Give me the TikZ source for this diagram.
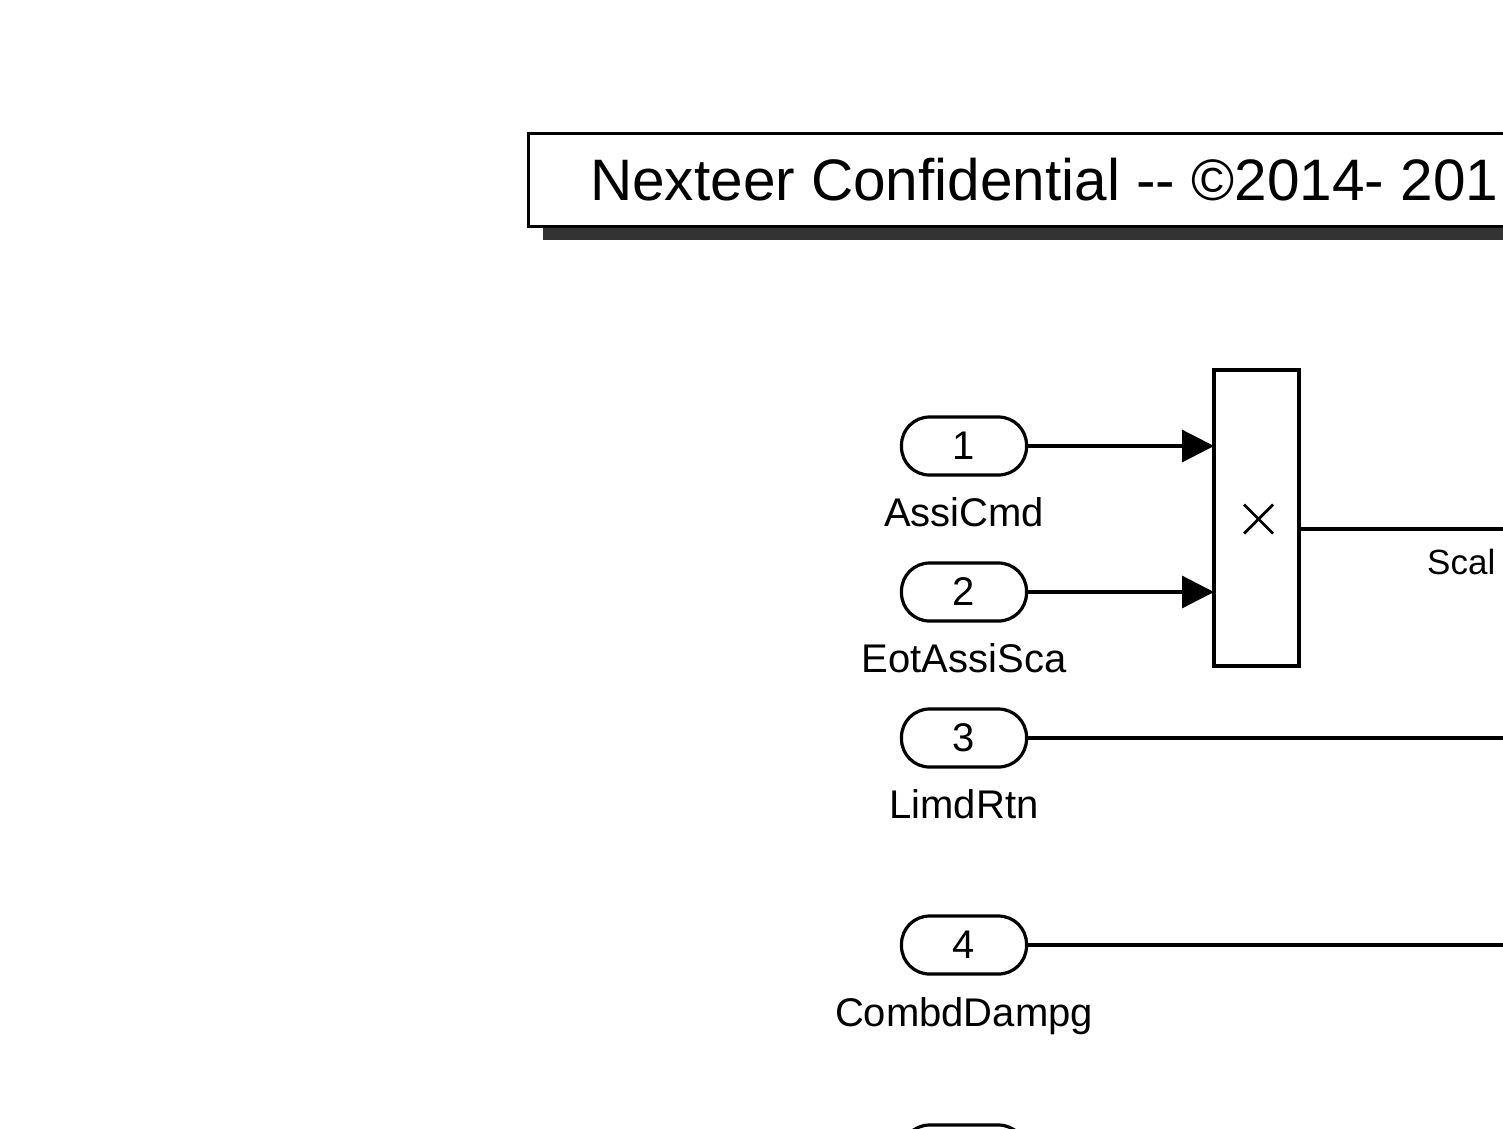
\documentclass[tikz,border=0pt]{standalone}
\usepackage{fontspec}
\setmainfont{Liberation Sans}
\usetikzlibrary{arrows.meta,calc}
\tikzset{
  port/.style={draw, line width=3.2pt, rectangle, rounded corners=28pt, minimum width=125pt, minimum height=58pt, inner sep=0pt, font=\fontsize{40}{44}\selectfont},
  plabel/.style={anchor=base, inner sep=0pt, font=\fontsize{40}{44}\selectfont},
  sig/.style={line width=3.2pt},
  arr/.style={sig, -{Triangle[length=32pt,width=32pt]}},
  blk/.style={draw, line width=3.2pt, inner sep=0pt}
}
\begin{document}
\begin{tikzpicture}[x=1pt,y=-1pt]
\path[use as bounding box] (0,0) rectangle (1503,1128);
\clip (0,0) rectangle (1503,1128);
\fill[white] (0,0) rectangle (1503,1128);
% title banner
\fill[black!80] (543,147) rectangle (1530,240);
\node[blk, fill=white, minimum width=1000pt, minimum height=93pt, anchor=north west] (title) at (527,132) {};
\node[anchor=base west, inner sep=0pt, font=\fontsize{58.5}{62}\selectfont] (ttext) at (590,200) {Nexteer Confidential -{}- ©2014- 201};
% ports
\node[port] (p1) at (964,446) {1};
\node[port] (p2) at (964,592) {2};
\node[port] (p3) at (964,738) {3};
\node[port] (p4) at (964,945) {4};
\node[port] (p5) at (964,1154) {};
\node[plabel] (l1) at (964,526) {AssiCmd};
\node[plabel] (l2) at (964,672) {EotAssiSca};
\node[plabel] (l3) at (964,818) {LimdRtn};
\node[plabel] (l4) at (964,1026) {CombdDampg};
% product block
\node[blk, minimum width=85pt, minimum height=296pt] (prod) at (1256.5,518) {};
\coordinate (xc) at (1258.5,519);
\draw[line width=2.8pt] ($(xc)+(-14.5,-14.5)$) -- ($(xc)+(14.5,14.5)$);
\draw[line width=2.8pt] ($(xc)+(-14.5,14.5)$) -- ($(xc)+(14.5,-14.5)$);
\coordinate (in1) at (1214,446);
\coordinate (in2) at (1214,592);
\draw[arr] (p1.east) -- (in1);
\draw[arr] (p2.east) -- (in2);
\coordinate (outS) at (1299,529);
\coordinate (outE) at (1520,529);
\draw[sig] (outS) -- (outE);
\node[anchor=base west, inner sep=0pt, font=\fontsize{35}{40}\selectfont] (slabel) at (1427,574) {Scal};
\coordinate (e3) at (1520,738);
\coordinate (e4) at (1520,945);
\draw[sig] (p3.east) -- (e3);
\draw[sig] (p4.east) -- (e4);
\end{tikzpicture}
\end{document}
